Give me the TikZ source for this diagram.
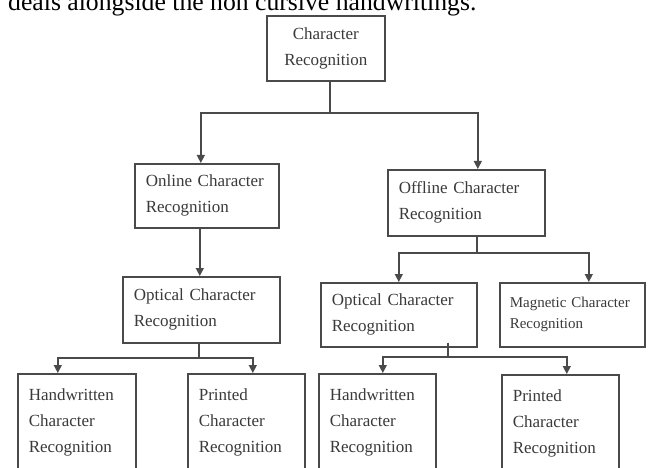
\documentclass[tikz,border=0pt]{standalone}
\usepackage{fontspec}
\setmainfont{Liberation Serif}
\usetikzlibrary{arrows.meta}
\definecolor{linec}{HTML}{4A4A4A}
\definecolor{textc}{HTML}{3A3A3A}
\begin{document}
\begin{tikzpicture}[x=1pt,y=-1pt,
  box/.style={draw=linec, line width=1.6pt, anchor=north west, inner xsep=11pt, inner ysep=0pt,
              align=left, text=textc, font=\fontsize{17}{26}\selectfont},
  conn/.style={draw=linec, line width=1.4pt},
  arr/.style={conn, -{Triangle[length=8pt,width=8pt]}}]
\useasboundingbox (0,0) rectangle (648,468);
\fill[white] (0,0) rectangle (648,468);
\clip (0,0) rectangle (648,468);
\node[anchor=base west, font=\fontsize{25.7}{30}\selectfont, inner sep=0pt] (head) at (8,10.5) {deals alongside the non cursive handwritings.};
% boxes
\node[box, align=center, minimum width=118pt, minimum height=65pt, text width=96pt] (A) at (266,15) {Character\\Recognition};
\node[box, minimum width=144pt, minimum height=64pt, text width=122pt] (B) at (134,163) {Online Character\\Recognition};
\node[box, minimum width=157pt, minimum height=66pt, text width=135pt] (C) at (387,169) {Offline Character\\Recognition};
\node[box, minimum width=157pt, minimum height=66pt, text width=135pt] (E) at (122,276) {Optical Character\\Recognition};
\node[box, minimum width=156pt, minimum height=64pt, text width=134pt] (D) at (320,282) {Optical Character\\Recognition};
\node[box, minimum width=145pt, minimum height=64pt, inner xsep=10pt, text width=125pt, font=\fontsize{15}{21}\selectfont] (M) at (499,282) {Magnetic Character\\Recognition};
\node[box, minimum width=118pt, minimum height=98pt, text width=96pt] (F) at (17,373) {Handwritten\\Character\\Recognition};
\node[box, minimum width=117pt, minimum height=98pt, text width=95pt] (G) at (187,373) {Printed\\Character\\Recognition};
\node[box, minimum width=117pt, minimum height=98pt, text width=95pt] (H) at (318,373) {Handwritten\\Character\\Recognition};
\node[box, minimum width=117pt, minimum height=98pt, text width=95pt] (I) at (501,374) {Printed\\Character\\Recognition};
% connectors
\coordinate (j1) at (330,113);
\draw[conn] (j1 |- A.south) -- (j1);
\draw[arr] (j1) -| ([xshift=-6pt]B.north);
\draw[arr] (j1) -| ([xshift=11.5pt]C.north);
\coordinate (b1) at ([xshift=-7pt]B.south);
\draw[arr] (b1) -- (b1 |- E.north);
\coordinate (j2) at (199,358);
\draw[conn] (j2 |- E.south) -- (j2);
\draw[arr] (j2) -| ([xshift=-19pt]F.north);
\draw[arr] (j2) -| ([xshift=6.5pt]G.north);
\coordinate (j3) at (477,253);
\draw[conn] (j3 |- C.south) -- (j3);
\draw[arr] (j3) -| (D.north);
\draw[arr] (j3) -| ([xshift=16.5pt]M.north);
\coordinate (j4) at (448,357);
\draw[conn] ([yshift=5pt]j4 |- D.south) -- (j4);
\draw[arr] (j4) -| ([xshift=5.5pt]H.north);
\draw[arr] (j4) -| ([xshift=6.5pt]I.north);
\end{tikzpicture}
\end{document}
